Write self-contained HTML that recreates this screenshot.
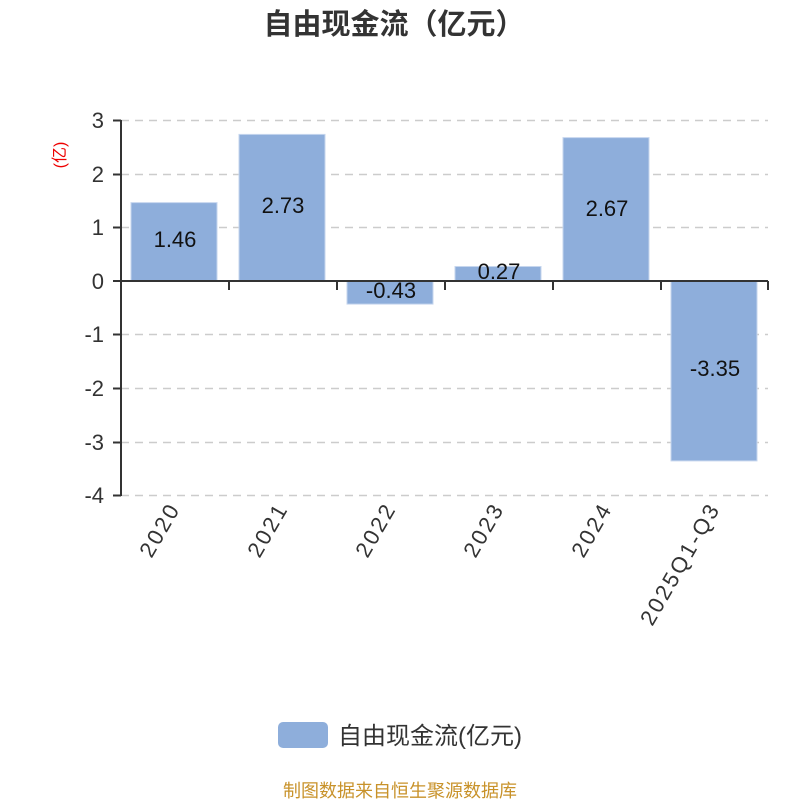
<!DOCTYPE html>
<html><head><meta charset="utf-8"><style>
html,body{margin:0;padding:0;background:#fff;}
svg text{font-family:"Liberation Sans","Noto Sans CJK SC",sans-serif;}
</style></head><body>
<svg width="800" height="800" xmlns="http://www.w3.org/2000/svg">
<text x="394" y="34" text-anchor="middle" font-size="29" font-weight="bold" fill="#333">自由现金流（亿元）</text>
<g stroke="#ccc" stroke-width="1.5" stroke-dasharray="8,6">
<line x1="121" y1="120.5" x2="768" y2="120.5"/>
<line x1="121" y1="174.5" x2="768" y2="174.5"/>
<line x1="121" y1="227.5" x2="768" y2="227.5"/>
<line x1="121" y1="334.5" x2="768" y2="334.5"/>
<line x1="121" y1="388.5" x2="768" y2="388.5"/>
<line x1="121" y1="442.5" x2="768" y2="442.5"/>
<line x1="121" y1="495.5" x2="768" y2="495.5"/>
</g>
<g fill="#8eaedb" stroke="#c6d6ee" stroke-width="1">
<rect x="131" y="202.6" width="86" height="78.4"/>
<rect x="239" y="134.4" width="86" height="146.6"/>
<rect x="347" y="281" width="86" height="23.1"/>
<rect x="455" y="266.5" width="86" height="14.5"/>
<rect x="563" y="137.6" width="86" height="143.4"/>
<rect x="671" y="281" width="86" height="179.9"/>
</g>
<g stroke="#333" stroke-width="2" fill="none">
<line x1="121" y1="120" x2="121" y2="496"/>
<line x1="113" y1="120.5" x2="121" y2="120.5"/>
<line x1="113" y1="174.5" x2="121" y2="174.5"/>
<line x1="113" y1="227.5" x2="121" y2="227.5"/>
<line x1="113" y1="281" x2="121" y2="281"/>
<line x1="113" y1="334.5" x2="121" y2="334.5"/>
<line x1="113" y1="388.5" x2="121" y2="388.5"/>
<line x1="113" y1="442.5" x2="121" y2="442.5"/>
<line x1="113" y1="495.5" x2="121" y2="495.5"/>
<line x1="121" y1="281" x2="768" y2="281"/>
<line x1="229" y1="281" x2="229" y2="290"/>
<line x1="337" y1="281" x2="337" y2="290"/>
<line x1="445" y1="281" x2="445" y2="290"/>
<line x1="553" y1="281" x2="553" y2="290"/>
<line x1="661" y1="281" x2="661" y2="290"/>
<line x1="768" y1="281" x2="768" y2="290"/>
</g>
<g font-size="22" fill="#333" text-anchor="end">
<text x="104" y="128">3</text>
<text x="104" y="182">2</text>
<text x="104" y="235">1</text>
<text x="104" y="289">0</text>
<text x="104" y="342">-1</text>
<text x="104" y="396">-2</text>
<text x="104" y="450">-3</text>
<text x="104" y="503">-4</text>
</g>
<text transform="translate(65,155) rotate(-90)" text-anchor="middle" font-size="16" fill="#e00">(亿)</text>
<g font-size="22" fill="#111" text-anchor="middle">
<text x="175" y="247">1.46</text>
<text x="283" y="213">2.73</text>
<text x="391" y="298">-0.43</text>
<text x="499" y="279">0.27</text>
<text x="607" y="216">2.67</text>
<text x="715" y="376">-3.35</text>
</g>
<g font-size="22" fill="#333" text-anchor="end" letter-spacing="2.5">
<text transform="translate(181,508) rotate(-60)">2020</text>
<text transform="translate(289,508) rotate(-60)">2021</text>
<text transform="translate(397,508) rotate(-60)">2022</text>
<text transform="translate(505,508) rotate(-60)">2023</text>
<text transform="translate(613,508) rotate(-60)">2024</text>
<text transform="translate(721,508) rotate(-60)">2025Q1-Q3</text>
</g>
<rect x="278" y="722" width="50" height="26" rx="5" fill="#8eaedb"/>
<text x="338" y="744" font-size="24" fill="#333">自由现金流(亿元)</text>
<text x="400" y="797" text-anchor="middle" font-size="18" fill="#c8922a">制图数据来自恒生聚源数据库</text>
</svg>
</body></html>
